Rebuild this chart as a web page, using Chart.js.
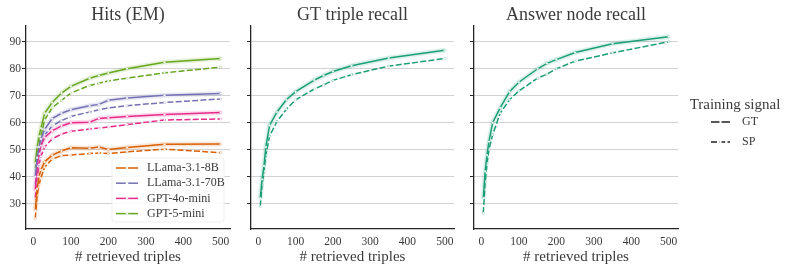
<!DOCTYPE html>
<html>
<head>
<meta charset="utf-8">
<script src="https://cdn.jsdelivr.net/npm/chart.js@4.4.1/dist/chart.umd.min.js"></script>
<style>
  body { margin: 0; background: #fff; }
  #lienzo { position: relative; width: 793px; height: 271px; }
  canvas { position: absolute; top: 0; }
</style>
</head>
<body>
<div id="lienzo">
  <canvas id="hits" width="240" height="271" style="left:0px"></canvas>
  <canvas id="triples" width="220" height="271" style="left:240px"></canvas>
  <canvas id="respuesta" width="328" height="271" style="left:465px"></canvas>
</div>
<script>
// Datos
const tripletas = [5, 10, 15, 20, 30, 50, 75, 100, 150, 175, 200, 250, 350, 500];
const ticksX = [0, 100, 200, 300, 400, 500];
const ticksY = [30, 40, 50, 60, 70, 80, 90];

const modelos = ['LLama-3.1-8B', 'LLama-3.1-70B', 'GPT-4o-mini', 'GPT-5-mini'];
const colores = ['#d95f02', '#7570b3', '#e7298a', '#66a61e'];

// Hits (EM), señal GT y SP
const llama8GT  = [27.5, 35.5, 40, 42.5, 45.5, 48, 49.5, 50.7, 50.5, 51.0, 50.1, 50.8, 52.0, 52.1];
const llama8SP  = [24.5, 33, 37, 39.5, 43.5, 46.5, 47.8, 48.0, 48.6, 48.8, 48.6, 49.2, 50.2, 48.9];
const llama70GT = [40, 47, 51, 54, 57.5, 61.5, 63.5, 64.8, 66.3, 66.8, 68.3, 69.2, 70.2, 70.8];
const llama70SP = [37, 44, 48.5, 51.5, 55.5, 58.8, 60.8, 62.3, 64.0, 64.8, 65.5, 66.3, 67.5, 68.8];
const gpt4oGT   = [35, 44, 48.5, 51.5, 54.5, 57, 58.8, 60.0, 60.2, 61.6, 61.8, 62.3, 63.0, 63.8];
const gpt4oSP   = [32, 40, 44.5, 47.5, 51, 54, 55.8, 56.8, 57.7, 58.0, 58.4, 59.3, 61.0, 61.4];
const gpt5GT    = [45, 51, 55, 58, 63.5, 67.5, 71, 73.5, 76.5, 77.5, 78.4, 80.0, 82.4, 83.8];
const gpt5SP    = [43, 48, 52, 55, 61, 65.5, 68.3, 71.0, 73.8, 74.6, 75.5, 76.5, 78.5, 80.6];

// GT triple recall
const tripleGT = [32, 39, 44, 51, 59, 64, 68.5, 71.5, 75.8, 77.5, 79.0, 81.1, 84.0, 86.9];
const tripleSP = [29, 37, 42, 48, 55, 60.5, 65, 68.5, 72.5, 74.0, 75.7, 77.8, 81.0, 83.8];

// Answer node recall
const nodoGT = [32, 42, 48, 53, 60, 65.5, 71.5, 75.0, 80.0, 82.0, 83.4, 86.0, 89.3, 91.9];
const nodoSP = [26.5, 38, 45, 50, 55.5, 63.5, 68.5, 71.8, 76.5, 78.0, 80.0, 82.8, 85.9, 90.0];

const verde = '#1b9e77';
const FUENTE = '"Liberation Serif", "DejaVu Serif", serif';
const TEXTO = '#3a3a3a';

Chart.defaults.font.family = FUENTE;
Chart.defaults.color = TEXTO;

function pares(valores) {
    return valores.map((v, i) => ({ x: tripletas[i], y: v }));
}

function conAlfa(hex, a) {
    const n = parseInt(hex.slice(1), 16);
    return `rgba(${(n >> 16) & 255},${(n >> 8) & 255},${n & 255},${a})`;
}

// Banda + línea GT + línea SP para un color
function series(color, gt, sp) {
    const punto = { pointRadius: 1.2, pointBackgroundColor: '#fff', pointBorderColor: conAlfa(color, 0.5), pointBorderWidth: 0.5, pointHoverRadius: 0 };
    return [
        { data: pares(gt), borderColor: conAlfa(color, 0.15), borderWidth: 5, pointRadius: 0, order: 3 },
        { data: pares(gt), borderColor: color, borderWidth: 1.5, order: 1, ...punto },
        { data: pares(sp), borderColor: color, borderWidth: 1.5, borderDash: [6, 2.25], order: 2, ...punto },
    ];
}

function escalas(conEtiquetas, anchoY) {
    return {
        x: {
            type: 'linear', min: -19.75, max: 524.75,
            afterBuildTicks: s => { s.ticks = ticksX.map(v => ({ value: v })); },
            afterFit: s => { s.height = 42; },
            grid: { display: false, drawTicks: false },
            border: { color: '#262626', width: 1.3 },
            ticks: { font: { size: 11.5 }, color: TEXTO, padding: 6, maxRotation: 0 },
            title: { display: true, text: '# retrieved triples', font: { size: 15 }, color: TEXTO, padding: { top: 0, bottom: 5 } },
        },
        y: {
            type: 'linear', min: 20.6, max: 96,
            afterBuildTicks: s => { s.ticks = ticksY.map(v => ({ value: v })); },
            afterFit: s => { s.width = anchoY; },
            grid: { color: '#d2d2d2', lineWidth: 1, tickColor: '#262626', tickLength: 4 },
            border: { color: '#262626', width: 1.3 },
            ticks: { display: conEtiquetas, font: { size: 11.5 }, color: TEXTO, padding: 1 },
        },
    };
}

// Muestra de línea con su punto en medio
function muestra(ctx, x0, x1, y, color, dash) {
    ctx.strokeStyle = color;
    ctx.lineWidth = 1.5;
    ctx.setLineDash(dash);
    ctx.beginPath();
    ctx.moveTo(x0, y);
    ctx.lineTo(x1, y);
    ctx.stroke();
    ctx.setLineDash([]);
    ctx.beginPath();
    ctx.arc((x0 + x1) / 2, y, 1.2, 0, Math.PI * 2);
    ctx.fillStyle = '#fff';
    ctx.fill();
}

const leyendaModelos = {
    id: 'leyendaModelos',
    afterDraw(chart) {
        const ctx = chart.ctx;
        const a = chart.chartArea;
        const x = a.right - 118, y = a.bottom - 71;
        ctx.save();
        ctx.fillStyle = 'rgba(255,255,255,0.85)';
        ctx.strokeStyle = '#efefef';
        ctx.lineWidth = 1;
        ctx.beginPath();
        ctx.roundRect(x, y, 112, 64, 3);
        ctx.fill();
        ctx.stroke();
        ctx.font = '12px ' + FUENTE;
        ctx.textBaseline = 'middle';
        modelos.forEach((m, i) => {
            const fy = y + 10 + i * 15.2;
            muestra(ctx, x + 4, x + 26, fy, colores[i], []);
            ctx.fillStyle = TEXTO;
            ctx.fillText(m, x + 35, fy);
        });
        ctx.restore();
    }
};

const leyendaSenal = {
    id: 'leyendaSenal',
    afterDraw(chart) {
        const ctx = chart.ctx;
        const cx = chart.chartArea.right + 57;
        ctx.save();
        ctx.fillStyle = TEXTO;
        ctx.font = '15px ' + FUENTE;
        ctx.textAlign = 'center';
        ctx.textBaseline = 'middle';
        ctx.fillText('Training signal', cx, 105);
        ctx.textAlign = 'left';
        ctx.font = '12px ' + FUENTE;
        [['GT', []], ['SP', [6, 2.25]]].forEach(([t, d], i) => {
            const fy = 122 + i * 20;
            muestra(ctx, cx - 24, cx - 5, fy, '#222', d);
            ctx.fillStyle = TEXTO;
            ctx.fillText(t, cx + 7, fy);
        });
        ctx.restore();
    }
};

function crearGrafico(id, titulo, datasets, conEtiquetas, anchoY, derecha, extras) {
    return new Chart(document.getElementById(id), {
        type: 'line',
        data: { datasets },
        options: {
            responsive: false,
            animation: false,
            events: [],
            layout: { padding: { left: 0, right: derecha, top: 0, bottom: 0 } },
            elements: { line: { tension: 0 } },
            plugins: {
                legend: { display: false },
                tooltip: { enabled: false },
                title: { display: true, text: titulo, fullSize: false, font: { size: 18, weight: 'normal' }, color: TEXTO, padding: { top: 4, bottom: 0 } },
            },
            scales: escalas(conEtiquetas, anchoY),
        },
        plugins: extras,
    });
}

crearGrafico('hits', 'Hits (EM)', [
    ...series(colores[0], llama8GT, llama8SP),
    ...series(colores[1], llama70GT, llama70SP),
    ...series(colores[2], gpt4oGT, gpt4oSP),
    ...series(colores[3], gpt5GT, gpt5SP),
], true, 26, 10, [leyendaModelos]);

crearGrafico('triples', 'GT triple recall', series(verde, tripleGT, tripleSP), false, 11, 6, []);
crearGrafico('respuesta', 'Answer node recall', series(verde, nodoGT, nodoSP), false, 9, 115, [leyendaSenal]);
</script>
</body>
</html>
